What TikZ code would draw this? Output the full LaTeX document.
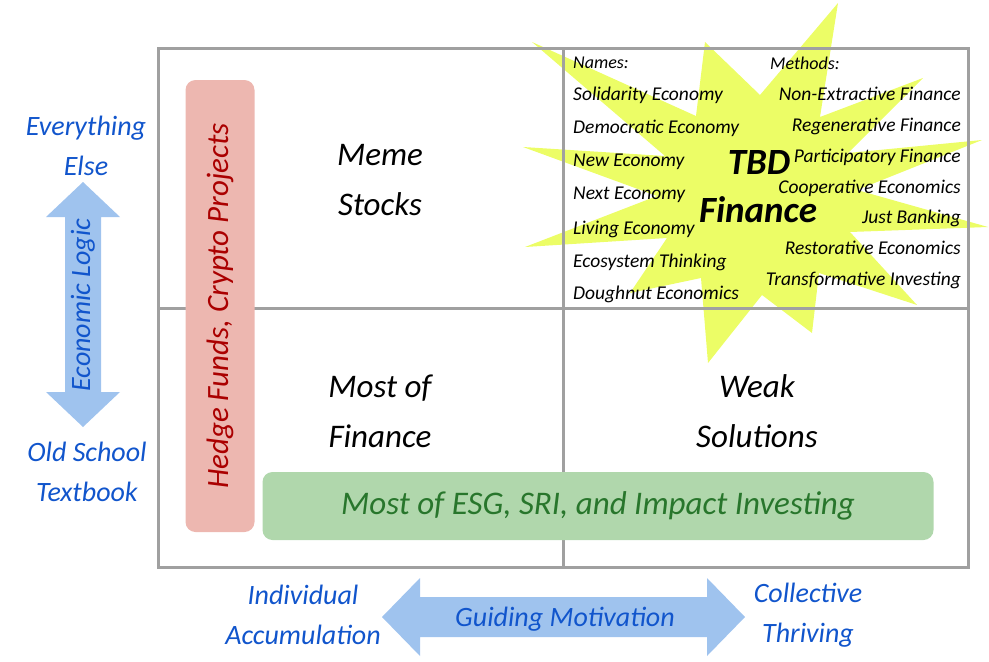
\documentclass[tikz,border=0pt]{standalone}
\usepackage{fontspec}
\setmainfont{Carlito}
\usepackage{tikz}
\usetikzlibrary{calc}
\definecolor{gridgray}{RGB}{160,160,160}
\definecolor{staryellow}{RGB}{236,253,102}
\definecolor{axisblue}{RGB}{17,85,204}
\definecolor{arrowblue}{RGB}{159,195,238}
\definecolor{hedgefill}{RGB}{237,183,176}
\definecolor{hedgetext}{RGB}{170,0,0}
\definecolor{esgfill}{RGB}{176,215,172}
\definecolor{esgtext}{RGB}{40,118,44}
\tikzstyle{gridline} = [draw=gridgray, line width=3pt]
\tikzstyle{quadrant} = [font=\itshape\fontsize{33}{50}\selectfont, align=center]
\tikzstyle{axislabel} = [text=axisblue, font=\itshape\fontsize{28}{40}\selectfont, align=center]
\tikzstyle{bigarrow} = [fill=arrowblue]
\tikzstyle{arrowtext} = [text=axisblue, font=\itshape\fontsize{28}{30}\selectfont]
\tikzstyle{listhead} = [font=\itshape\fontsize{18}{19}\selectfont, inner sep=0pt]
\tikzstyle{listitem} = [font=\itshape\fontsize{19.5}{20}\selectfont, inner sep=0pt]
\tikzstyle{tbd} = [font=\itshape\bfseries\fontsize{37}{40}\selectfont, inner sep=0pt]
\tikzstyle{hedge} = [rounded corners=10pt, fill=hedgefill, text=hedgetext, minimum width=452pt, minimum height=69pt, rotate=90, font=\itshape\fontsize{31}{32}\selectfont]
\tikzstyle{esg} = [rounded corners=10pt, fill=esgfill, text=esgtext, minimum width=671pt, minimum height=68pt, font=\itshape\fontsize{33}{34}\selectfont]

\begin{document}
\begin{tikzpicture}[x=1pt,y=-1pt]
\useasboundingbox (0,0) rectangle (989,662);

% burst behind the top right square
\fill[staryellow] (838,3) -- (820,117) -- (923,78) -- (848,153) -- (982,140) -- (857,190)
  -- (988,227) -- (850,232) -- (917,305) -- (819,273) -- (812,333) -- (762,295)
  -- (708,363) -- (701,278) -- (630,293) -- (667,238) -- (525,247) -- (657,196)
  -- (523,147) -- (665,156) -- (532,42) -- (696,116) -- (705,42) -- (760,95) -- cycle;

% the four squares
\draw[gridline] (158,48) rectangle (968,567);
\draw[gridline] (563,48) -- (563,567);
\draw[gridline] (158,308) -- (968,308);

% quadrant texts
\node (meme) [quadrant] at (380,180) {Meme\\Stocks};
\node (most) [quadrant] at (380,411) {Most of\\Finance};
\node (weak) [quadrant] at (757,411) {Weak\\Solutions};

% names and methods
\node (names) [listhead, anchor=west] at (573,63) {Names:};
\node (n1) [listitem, anchor=west] at (573,95) {Solidarity Economy};
\node (n2) [listitem, anchor=west] at (573,128) {Democratic Economy};
\node (n3) [listitem, anchor=west] at (573,162) {New Economy};
\node (n4) [listitem, anchor=west] at (573,195) {Next Economy};
\node (n5) [listitem, anchor=west] at (573,229) {Living Economy};
\node (n6) [listitem, anchor=west] at (573,262) {Ecosystem Thinking};
\node (n7) [listitem, anchor=west] at (573,294) {Doughnut Economics};
\node (methods) [listhead, anchor=west] at (770,63) {Methods:};
\node (m1) [listitem, anchor=east] at (961,94) {Non-Extractive Finance};
\node (m2) [listitem, anchor=east] at (961,126) {Regenerative Finance};
\node (m3) [listitem, anchor=east] at (961,157) {Participatory Finance};
\node (m4) [listitem, anchor=east] at (961,188) {Cooperative Economics};
\node (m5) [listitem, anchor=east] at (961,218) {Just Banking};
\node (m6) [listitem, anchor=east] at (961,248) {Restorative Economics};
\node (m7) [listitem, anchor=east] at (961,280) {Transformative Investing};
\node (tbd) [tbd] at (759,162) {TBD};
\node (tbdfin) [tbd] at (758,210) {Finance};

% boxes across the squares
\node (hedgebox) [hedge] at (220,306) {Hedge Funds, Crypto Projects};
\node (esgbox) [esg] at (598,506) {Most of ESG, SRI, and Impact Investing};

% economic logic, up and down
\coordinate (ltop) at (83,182);
\coordinate (lbot) at (83,427);
\fill[bigarrow] (ltop) -- ++(37,35) -- ++(-19,0) -- ++(0,175) -- ++(19,0) -- (lbot)
  -- ++(-37,-35) -- ++(19,0) -- ++(0,-175) -- ++(-19,0) -- cycle;
\node (logic) [arrowtext, rotate=90] at (83,305) {Economic Logic};
\node (everything) [axislabel] at (86,146) {Everything\\Else};
\node (oldschool) [axislabel] at (87,472) {Old School\\Textbook};

% guiding motivation, left and right
\coordinate (bleft) at (382,617);
\coordinate (bright) at (745,617);
\fill[bigarrow] (bleft) -- ++(38,-39) -- ++(0,19) -- ++(287,0) -- ++(0,-19) -- (bright)
  -- ++(-38,39) -- ++(0,-19) -- ++(-287,0) -- ++(0,19) -- cycle;
\node (motivation) [arrowtext] at (565,619) {Guiding Motivation};
\node (individual) [axislabel] at (303,615) {Individual\\Accumulation};
\node (collective) [axislabel] at (808,615) {Collective\\Thriving};

\end{tikzpicture}
\end{document}
